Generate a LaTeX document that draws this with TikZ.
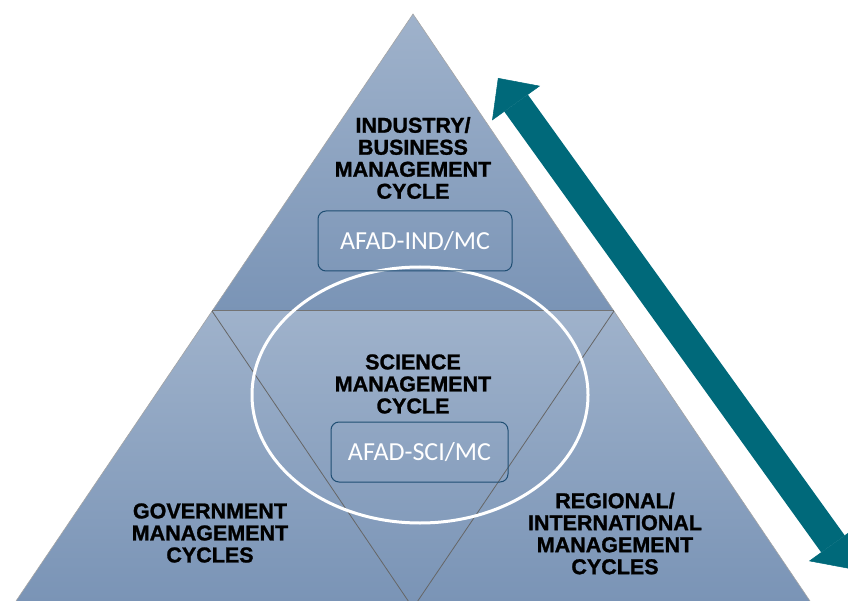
\documentclass[tikz,border=0pt]{standalone}
\usepackage{fontspec}
\setmainfont{Liberation Sans}
\newfontfamily\lblfont{Liberation Sans Bold}[FakeBold=1.2]
\newfontfamily\boxfont{Carlito}
\usetikzlibrary{arrows.meta}
\definecolor{pyrtop}{HTML}{9FB2CB}
\definecolor{pyrbot}{HTML}{7A94B6}
\definecolor{cyclearrow}{HTML}{00697A}
\definecolor{boxline}{HTML}{1F4E73}

\begin{document}
\begin{tikzpicture}[x=1pt,y=-1pt,
  lbl/.style={font=\lblfont\fontsize{21.5}{22}\selectfont,align=center,inner sep=0pt},
  afad/.style={draw=boxline,line width=1pt,rounded corners=8pt,minimum height=60pt,
    font=\boxfont\fontsize{26}{28}\selectfont,text=white}]
\useasboundingbox (0,0) rectangle (848,601);
\clip (0,0) rectangle (848,601);
\coordinate (apex) at (413,14);\coordinate (ml) at (212,311);\coordinate (mr) at (614,311);
\coordinate (bl) at (16,601);\coordinate (br) at (810,601);\coordinate (vb) at (413,608);
% pyramid
\shade[top color=pyrtop,bottom color=pyrbot](apex)--(ml)--(mr)--cycle;
\shade[top color=pyrtop,bottom color=pyrbot](ml)--(bl)--(br)--(mr)--cycle;
\draw[black!35,line width=0.6pt](bl)--(apex)--(br);
\draw[black!55,line width=1pt](ml)--(mr);
\draw[black!60,line width=0.8pt](ml)--(vb)--(mr);
\draw[white,line width=3pt](420,395) ellipse[x radius=168,y radius=128];
% labels
\node[lbl](ind) at(413,158){INDUSTRY/\\BUSINESS\\MANAGEMENT\\CYCLE};
\node[afad,minimum width=194pt](indbox) at(415,241){AFAD-IND/MC};
\node[lbl](sci) at(413,384){SCIENCE\\MANAGEMENT\\CYCLE};
\node[afad,minimum width=177pt](scibox) at(419.5,452){AFAD-SCI/MC};
\node[lbl](gov) at(210,533){GOVERNMENT\\MANAGEMENT\\CYCLES};
\node[lbl](reg) at(615,533.5){REGIONAL/\\INTERNATIONAL\\MANAGEMENT\\CYCLES};
% double arrow
\coordinate (up) at (498,78);\coordinate (dn) at (851,569);
\draw[cyclearrow,line width=29pt,
  {Triangle[length=31pt,width=59pt,line width=0.5pt]}-{Triangle[length=31pt,width=59pt,line width=0.5pt]}](up)--(dn);
\end{tikzpicture}
\end{document}
